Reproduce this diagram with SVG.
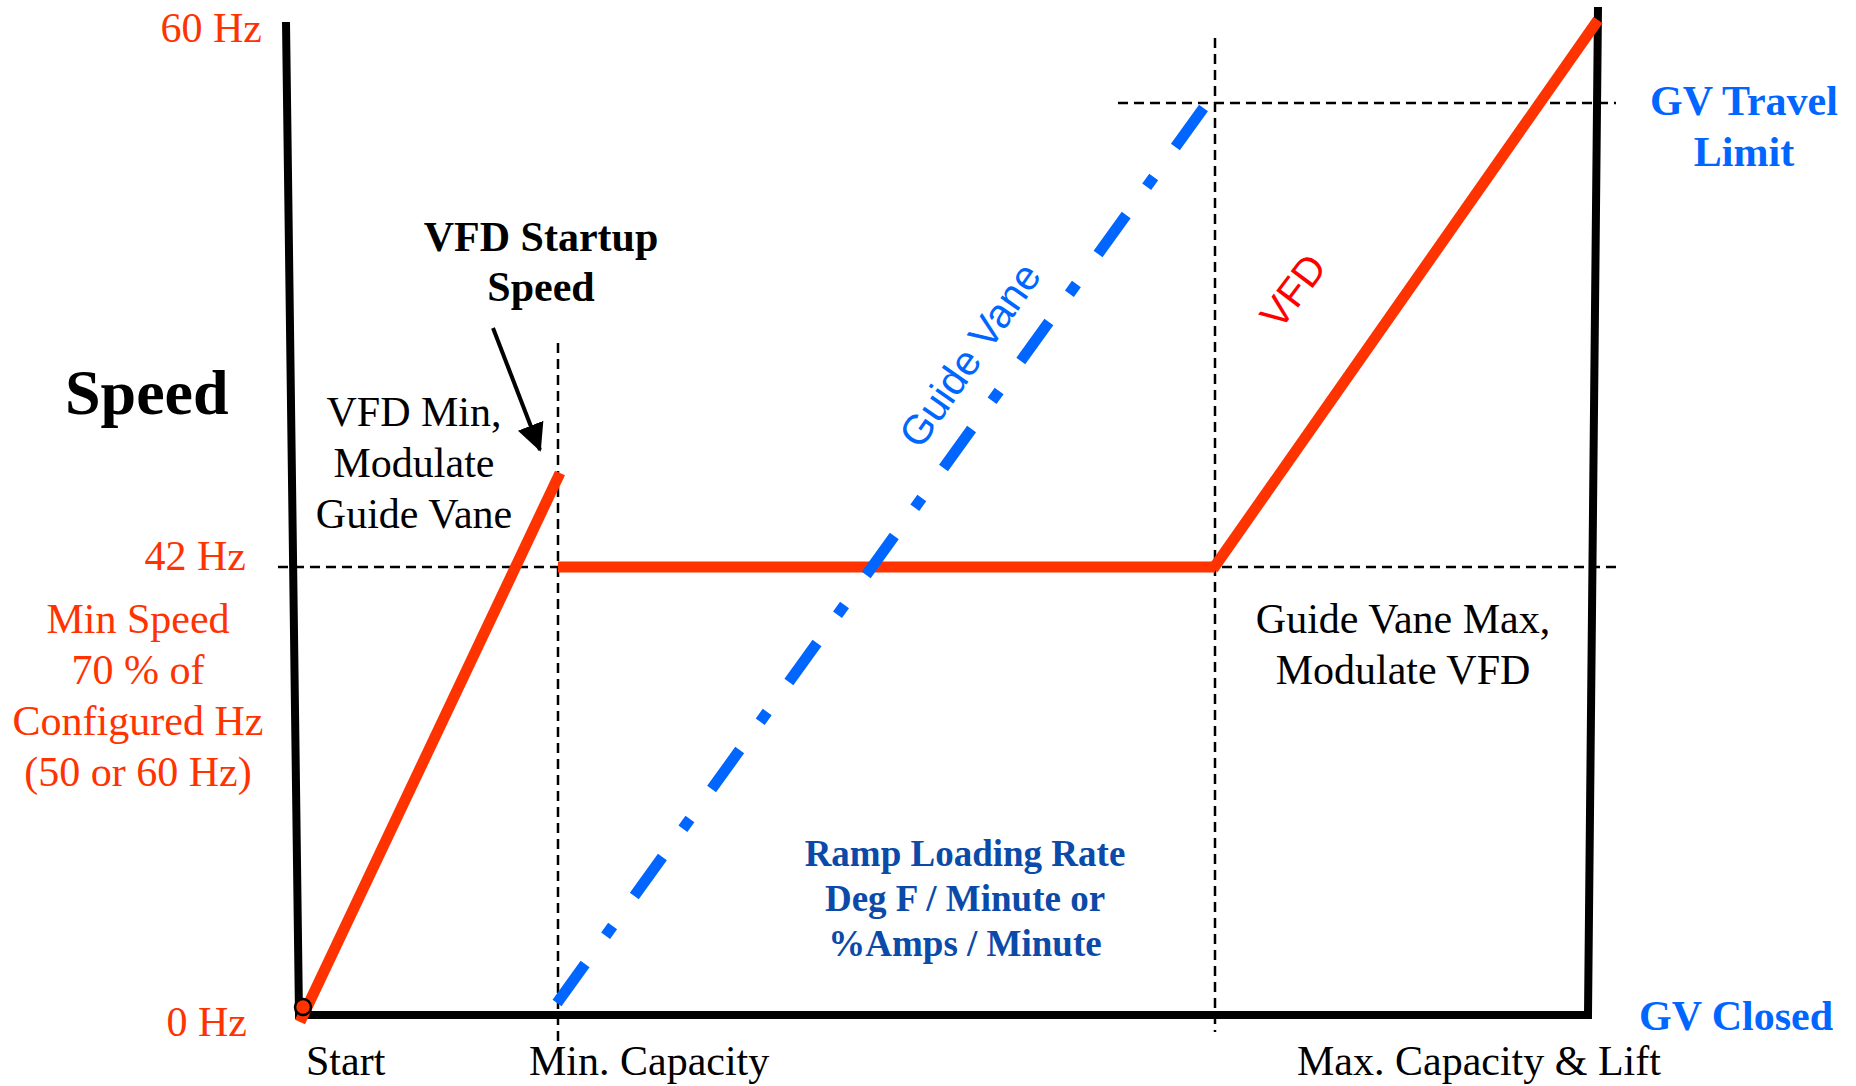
<svg xmlns="http://www.w3.org/2000/svg" width="1856" height="1086" viewBox="0 0 1856 1086">
  <style>
    .serif { font-family: "Liberation Serif", "Times New Roman", serif; }
    .sans { font-family: "Liberation Sans", Arial, sans-serif; }
    .red { fill: #ff3300; }
    .blk { fill: #000000; }
    .blue { fill: #0066ff; }
    .navy { fill: #0b4aa8; }
    .guide { stroke: #000; stroke-width: 2.5; stroke-dasharray: 10 6; fill: none; }
    .axis { stroke: #000; stroke-width: 8; fill: none; stroke-linejoin: miter; }
    .vfd { stroke: #ff3300; stroke-width: 11; fill: none; stroke-linecap: butt; }
    .gv { stroke: #0066ff; stroke-width: 11; fill: none; stroke-dasharray: 48 35 12 37; }
  </style>
  <defs>
    <marker id="arrowHead" markerWidth="8" markerHeight="8" refX="6.5" refY="4" orient="auto" markerUnits="strokeWidth">
      <path d="M0,0.6 L7,4 L0,7.4 Z" fill="#000"/>
    </marker>
  </defs>

  <rect width="1856" height="1086" fill="#fff"/>

  <!-- dashed reference lines -->
  <g id="reference-lines">
    <line class="guide" x1="278" y1="567" x2="1616" y2="567"/>
    <line class="guide" x1="1118" y1="103" x2="1616" y2="103"/>
    <line class="guide" x1="558" y1="343" x2="558" y2="1045"/>
    <line class="guide" x1="1215" y1="38" x2="1215" y2="1032"/>
  </g>

  <!-- axes frame -->
  <g id="axes">
    <polyline class="axis" points="286,22 299,1015 1588,1015 1598,7"/>
  </g>

  <!-- speed curves -->
  <g id="connectors">
    <polyline id="vfd-ramp" class="vfd" points="300,1022 560,473"/>
    <line id="vfd-min" class="vfd" x1="558" y1="567" x2="1215" y2="567"/>
    <line id="vfd-rise" class="vfd" x1="1213" y1="569" x2="1598" y2="20"/>
    <line id="guide-vane" class="gv" x1="557" y1="1003" x2="1205" y2="106"/>
    <line id="startup-arrow" x1="493" y1="328" x2="540" y2="450" stroke="#000" stroke-width="4" marker-end="url(#arrowHead)"/>
  </g>

  <g id="start-point">
    <circle cx="303" cy="1007" r="8" fill="#ff3300" stroke="#000" stroke-width="2.5"/>
  </g>

  <!-- axis labels -->
  <g id="y-labels" class="serif red" font-size="42" text-anchor="end">
    <text x="262" y="42">60 Hz</text>
    <text x="246" y="570">42 Hz</text>
    <text x="247" y="1036">0 Hz</text>
  </g>

  <g id="speed-title">
    <text class="serif blk" x="65" y="414" font-size="64" font-weight="bold">Speed</text>
  </g>

  <g id="min-speed-note" class="serif red" font-size="42" text-anchor="middle">
    <text x="138" y="633">Min Speed</text>
    <text x="138" y="684">70 % of</text>
    <text x="138" y="735">Configured Hz</text>
    <text x="138" y="786">(50 or 60 Hz)</text>
  </g>

  <g id="x-labels" class="serif blk" font-size="42">
    <text x="306" y="1075">Start</text>
    <text x="529" y="1075">Min. Capacity</text>
    <text x="1297" y="1075">Max. Capacity &amp; Lift</text>
  </g>

  <g id="startup-note" class="serif blk" font-size="42" font-weight="bold" text-anchor="middle">
    <text x="541" y="251">VFD Startup</text>
    <text x="541" y="301">Speed</text>
  </g>

  <g id="vfd-min-note" class="serif blk" font-size="42" text-anchor="middle">
    <text x="414" y="426">VFD Min,</text>
    <text x="414" y="477">Modulate</text>
    <text x="414" y="528">Guide Vane</text>
  </g>

  <g id="gv-max-note" class="serif blk" font-size="42" text-anchor="middle">
    <text x="1403" y="633">Guide Vane Max,</text>
    <text x="1403" y="684">Modulate VFD</text>
  </g>

  <g id="ramp-note" class="serif navy" font-size="37" font-weight="bold" text-anchor="middle">
    <text x="965" y="866">Ramp Loading Rate</text>
    <text x="965" y="911">Deg F / Minute or</text>
    <text x="965" y="956">%Amps / Minute</text>
  </g>

  <g id="gv-limits" class="serif blue" font-size="42" font-weight="bold">
    <text x="1744" y="115" text-anchor="middle">GV Travel</text>
    <text x="1744" y="166" text-anchor="middle">Limit</text>
    <text x="1639" y="1030">GV Closed</text>
  </g>

  <!-- line captions -->
  <g id="line-captions" class="sans" text-anchor="middle">
    <text class="blue" font-size="41" transform="translate(970,355) rotate(-55)" y="14">Guide Vane</text>
    <text fill="#ff0000" font-size="40" transform="translate(1293,291) rotate(-53)" y="14">VFD</text>
  </g>
</svg>
